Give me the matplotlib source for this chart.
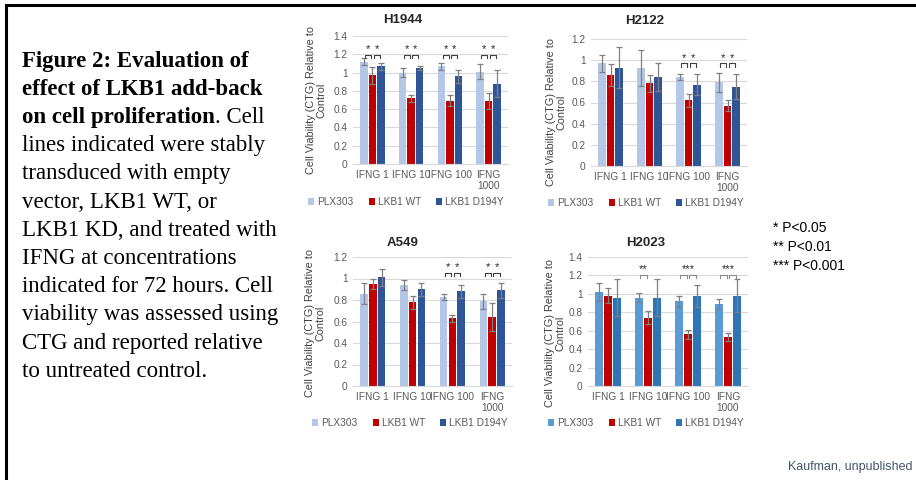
import matplotlib
matplotlib.use("Agg")
import matplotlib.pyplot as plt
from matplotlib.patches import Patch
from matplotlib.lines import Line2D
import numpy as np

# ---------------- data ----------------
categories = ["IFNG 1", "IFNG 10", "IFNG 100", "IFNG\n1000"]
series = ["PLX303", "LKB1 WT", "LKB1 D194Y"]

h1944_plx = [1.12, 1.00, 1.07, 1.01]
h1944_wt = [0.97, 0.72, 0.69, 0.69]
h1944_d194y = [1.07, 1.05, 0.96, 0.88]
h1944_plx_err = [0.04, 0.05, 0.04, 0.08]
h1944_wt_err = [0.09, 0.04, 0.06, 0.09]
h1944_d194y_err = [0.04, 0.02, 0.07, 0.15]

h2122_plx = [0.97, 0.93, 0.84, 0.79]
h2122_wt = [0.86, 0.78, 0.62, 0.57]
h2122_d194y = [0.93, 0.84, 0.77, 0.75]
h2122_plx_err = [0.08, 0.17, 0.03, 0.09]
h2122_wt_err = [0.10, 0.08, 0.06, 0.05]
h2122_d194y_err = [0.19, 0.13, 0.10, 0.12]

a549_plx = [0.86, 0.94, 0.83, 0.79]
a549_wt = [0.95, 0.78, 0.63, 0.64]
a549_d194y = [1.01, 0.90, 0.88, 0.89]
a549_plx_err = [0.10, 0.05, 0.03, 0.07]
a549_wt_err = [0.05, 0.06, 0.03, 0.13]
a549_d194y_err = [0.08, 0.06, 0.06, 0.07]

h2023_plx = [1.02, 0.96, 0.92, 0.89]
h2023_wt = [0.98, 0.74, 0.56, 0.53]
h2023_d194y = [0.96, 0.96, 0.98, 0.98]
h2023_plx_err = [0.10, 0.05, 0.06, 0.05]
h2023_wt_err = [0.08, 0.07, 0.05, 0.04]
h2023_d194y_err = [0.20, 0.20, 0.12, 0.18]

# significance: per category, list of (pairs of series indices, label)
h1944_sig = [[([(0, 1)], "*"), ([(1, 2)], "*")]] * 4
h2122_sig = [[], [], [([(0, 1)], "*"), ([(1, 2)], "*")], [([(0, 1)], "*"), ([(1, 2)], "*")]]
a549_sig = [[], [], [([(0, 1)], "*"), ([(1, 2)], "*")], [([(0, 1)], "*"), ([(1, 2)], "*")]]
h2023_sig = [[], [([(0, 1)], "**")], [([(0, 1), (1, 2)], "***")], [([(0, 1), (1, 2)], "***")]]

pvalue_lines = ["* P<0.05", "** P<0.01", "*** P<0.001"]

caption_lines = [
    [("Figure 2: Evaluation of", "bold")],
    [("effect of LKB1 add-back", "bold")],
    [("on cell proliferation", "bold"), (". Cell", "normal")],
    [("lines indicated were stably", "normal")],
    [("transduced with empty", "normal")],
    [("vector, LKB1 WT, or", "normal")],
    [("LKB1 KD, and treated with", "normal")],
    [("IFNG at concentrations", "normal")],
    [("indicated for 72 hours. Cell", "normal")],
    [("viability was assessed using", "normal")],
    [("CTG and reported relative", "normal")],
    [("to untreated control.", "normal")],
]

# ---------------- figure ----------------
W, H = 916, 480
fig = plt.figure(figsize=(W / 100, H / 100), dpi=100)
fig.patch.set_facecolor("white")


def fx(px):
    return px / W


def fy(py):
    return 1 - py / H


# frame lines
fig.add_artist(Line2D([fx(6), 1.0], [fy(5), fy(5)], color="black", lw=2.2, transform=fig.transFigure))
fig.add_artist(Line2D([fx(6), fx(6)], [fy(5), 0.0], color="black", lw=2.2, transform=fig.transFigure))

SANS = ["Liberation Sans", "DejaVu Sans"]
SERIF = ["Liberation Serif", "DejaVu Serif"]

default_colors = ["#B4C7E7", "#C00000", "#2F5597"]
h2023_colors = ["#5B9BD5", "#C00000", "#2E75B6"]

panels = [
    dict(name="H1944", box=(353, 36, 508, 164), ymax=1.4, sig=h1944_sig, siglevel=1.19,
         vals=(h1944_plx, h1944_wt, h1944_d194y), errs=(h1944_plx_err, h1944_wt_err, h1944_d194y_err),
         colors=default_colors, title_xy=(403, 20), ylab_xy=(316, 100), leg_xy=(406, 202),
         bcolor="#404040"),
    dict(name="H2122", box=(591, 39, 747, 166), ymax=1.2, sig=h2122_sig, siglevel=0.97,
         vals=(h2122_plx, h2122_wt, h2122_d194y), errs=(h2122_plx_err, h2122_wt_err, h2122_d194y_err),
         colors=default_colors, title_xy=(645, 21), ylab_xy=(556, 112), leg_xy=(646, 203),
         bcolor="#404040"),
    dict(name="A549", box=(353, 257, 512, 386), ymax=1.2, sig=a549_sig, siglevel=1.05,
         vals=(a549_plx, a549_wt, a549_d194y), errs=(a549_plx_err, a549_wt_err, a549_d194y_err),
         colors=default_colors, title_xy=(403, 243), ylab_xy=(315, 323), leg_xy=(410, 423),
         bcolor="#404040"),
    dict(name="H2023", box=(588, 257, 748, 386), ymax=1.4, sig=h2023_sig, siglevel=1.21,
         vals=(h2023_plx, h2023_wt, h2023_d194y), errs=(h2023_plx_err, h2023_wt_err, h2023_d194y_err),
         colors=h2023_colors, title_xy=(646, 243), ylab_xy=(555, 333), leg_xy=(646, 423),
         bcolor="#8C8C8C"),
]

bar_w = 0.19
offs = [-0.22, 0.0, 0.22]
x = np.arange(len(categories))

for p in panels:
    l, t, r, b = p["box"]
    ax = fig.add_axes([fx(l), fy(b), fx(r - l), (b - t) / H])
    for k in range(3):
        ax.bar(x + offs[k], p["vals"][k], width=bar_w, color=p["colors"][k], zorder=2,
               yerr=p["errs"][k], error_kw=dict(ecolor="#808080", elinewidth=0.9, capsize=2, capthick=0.9))
    ax.set_xlim(-0.5, len(categories) - 0.5)
    ax.set_ylim(0, p["ymax"])
    ticks = np.round(np.arange(0, p["ymax"] + 0.001, 0.2), 1)
    ax.set_yticks(ticks)
    ax.set_yticklabels([f"{v:g}" for v in ticks])
    ax.set_xticks(x)
    ax.set_xticklabels(categories)
    ax.tick_params(length=0, labelsize=7.3, colors="#595959", pad=4)
    for lab in ax.get_xticklabels() + ax.get_yticklabels():
        lab.set_family(SANS)
    ax.yaxis.grid(True, color="#D9D9D9", lw=0.8, zorder=0)
    ax.set_axisbelow(True)
    for s in ["top", "right", "left"]:
        ax.spines[s].set_visible(False)
    ax.spines["bottom"].set_color("#D9D9D9")
    ax.patch.set_alpha(0)

    # significance brackets
    yl = p["siglevel"]
    leg = p["ymax"] * 0.025
    for ci, items in enumerate(p["sig"]):
        for pairs, lab in items:
            xs_all = []
            for (i, j) in pairs:
                x0 = ci + offs[i] + 0.03
                x1 = ci + offs[j] - 0.03
                ax.plot([x0, x0, x1, x1], [yl - leg, yl, yl, yl - leg], color=p["bcolor"], lw=0.8, zorder=3)
                xs_all += [x0, x1]
            ax.text((min(xs_all) + max(xs_all)) / 2, yl + p["ymax"] * 0.005, lab, ha="center", va="bottom",
                    fontsize=8, color="#262626", family=SANS)

    fig.text(fx(p["title_xy"][0]), fy(p["title_xy"][1]), p["name"], ha="center", va="center",
             fontsize=9.5, fontweight="bold", color="#262626", family=SANS)
    fig.text(fx(p["ylab_xy"][0]), fy(p["ylab_xy"][1]), "Cell Viability (CTG) Relative to\nControl",
             ha="center", va="center", rotation=90, fontsize=7.8, color="#404040", family=SANS,
             linespacing=1.1)
    handles = [Patch(facecolor=c, edgecolor="none") for c in p["colors"]]
    ax.legend(handles, series, loc="center", bbox_to_anchor=(fx(p["leg_xy"][0]), fy(p["leg_xy"][1])),
              bbox_transform=fig.transFigure, ncol=3, frameon=False,
              handlelength=0.6, handleheight=0.6, handletextpad=0.3, columnspacing=1.5,
              prop=dict(family=SANS, size=7.3), labelcolor="#595959")

# caption text
fig.canvas.draw()
renderer = fig.canvas.get_renderer()
cap_x0 = 22
cap_y0 = 61
cap_dy = 28.2
for li, parts in enumerate(caption_lines):
    xpos = fx(cap_x0)
    ypos = fy(cap_y0 + li * cap_dy)
    for txt, wt in parts:
        tobj = fig.text(xpos, ypos, txt, ha="left", va="center", fontsize=16.5, fontweight=wt,
                        color="black", family=SERIF)
        bb = tobj.get_window_extent(renderer=renderer)
        xpos = bb.x1 / fig.bbox.width

# p-value legend
for i, s in enumerate(pvalue_lines):
    fig.text(fx(773), fy(228 + i * 19), s, ha="left", va="center", fontsize=10, color="black", family=SANS)

fig.text(fx(912), fy(467), "Kaufman, unpublished", ha="right", va="center", fontsize=9,
         color="#44546A", family=SANS)

fig.savefig("out.png", dpi=100, facecolor="white")
